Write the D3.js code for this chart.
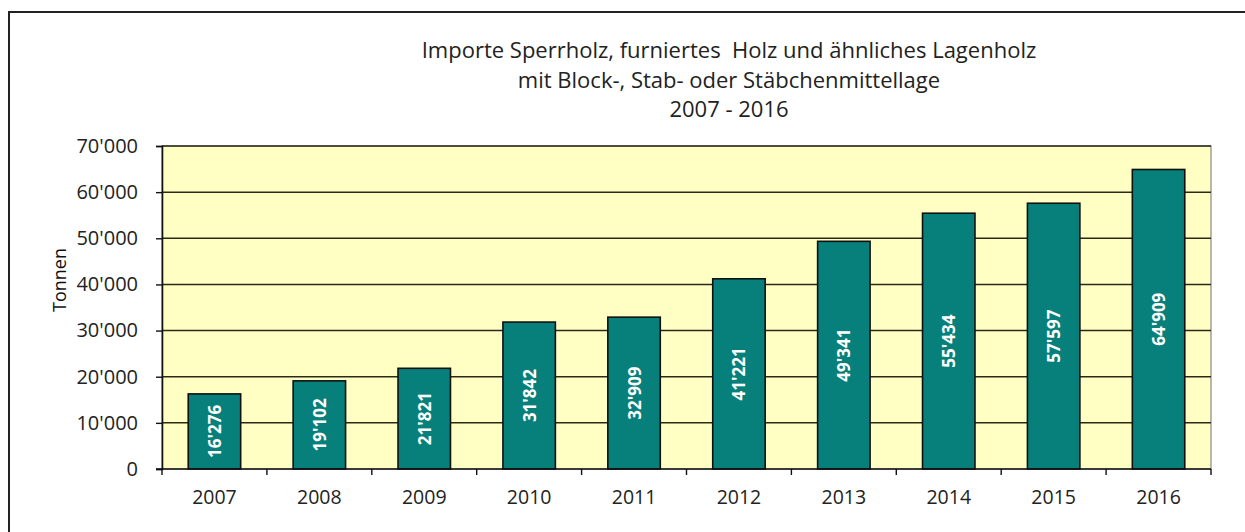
<!DOCTYPE html>
<html><head><meta charset="utf-8">
<script src="https://cdn.jsdelivr.net/npm/d3@7"></script>
<style>
body{margin:0;background:#fff;}
svg{display:block;font-family:"Open Sans",sans-serif;}
</style></head>
<body><svg id="c" width="1245" height="532"></svg>
<script>
const years = ["2007","2008","2009","2010","2011","2012","2013","2014","2015","2016"];
const values = [16276,19102,21821,31842,32909,41221,49341,55434,57597,64909];
const yTicks = [0,10000,20000,30000,40000,50000,60000,70000];
const titleLines = ["Importe Sperrholz, furniertes  Holz und ähnliches Lagenholz","mit Block-, Stab- oder Stäbchenmittellage","2007 - 2016"];
const yLabel = "Tonnen";

const svg = d3.select("#c");
const fmt = v => { const s = String(v); return s.length > 3 ? s.slice(0, s.length-3) + "'" + s.slice(-3) : s; };

// outer frame
svg.append("rect").attr("x",9).attr("y",12).attr("width",1260).attr("height",540)
  .attr("fill","#fff").attr("stroke","#222").attr("stroke-width",2);

const L=162, R=1211, T=146, B=469;
const x = d3.scaleBand().domain(years).range([L,R]).paddingInner(0.5).paddingOuter(0.25);
const y = d3.scaleLinear().domain([0,70000]).range([B,T]);

svg.append("rect").attr("x",L).attr("y",T).attr("width",R-L).attr("height",B-T)
  .attr("fill","#ffffc4").attr("stroke","#888").attr("stroke-width",1.2);

// gridlines
svg.append("g").selectAll("line").data(yTicks.filter(d=>d>0)).join("line")
  .attr("x1",L).attr("x2",R).attr("y1",d=>y(d)).attr("y2",d=>y(d))
  .attr("stroke","#2a2a1a").attr("stroke-width",1.5);

// bars
svg.append("g").selectAll("rect").data(values).join("rect")
  .attr("x",(d,i)=>x(years[i])).attr("width",x.bandwidth())
  .attr("y",d=>y(d)).attr("height",d=>B-y(d))
  .attr("fill","#077f7b").attr("stroke","#111").attr("stroke-width",1.6);

// value labels
svg.append("g").selectAll("text").data(values).join("text")
  .attr("transform",(d,i)=>`translate(${x(years[i])+x.bandwidth()/2},${(y(d)+B)/2}) rotate(-90)`)
  .attr("text-anchor","middle").attr("dominant-baseline","central")
  .attr("fill","#fff").attr("font-weight","bold").attr("font-size",17)
  .text(d=>fmt(d));

// y axis
const yAxis = d3.axisLeft(y).tickValues(yTicks).tickFormat(fmt).tickSize(6).tickPadding(18);
const gy = svg.append("g").attr("transform",`translate(${L},0)`).call(yAxis);
gy.select(".domain").attr("stroke","#111").attr("stroke-width",1.6);
gy.selectAll(".tick line").attr("stroke","#111").attr("stroke-width",1.4);
gy.selectAll("text").attr("font-size",20).attr("fill","#222").attr("font-family","Open Sans");

// x axis
const gx = svg.append("g").attr("transform",`translate(0,${B})`);
gx.append("line").attr("x1",L-6).attr("x2",R).attr("stroke","#111").attr("stroke-width",1.6);
const bounds = d3.range(years.length+1).map(i=>L+i*(R-L)/years.length);
gx.selectAll("line.t").data(bounds).join("line").attr("class","t")
  .attr("x1",d=>d).attr("x2",d=>d).attr("y1",0).attr("y2",6).attr("stroke","#111").attr("stroke-width",1.4);
gx.selectAll("text").data(years).join("text")
  .attr("x",d=>x(d)+x.bandwidth()/2).attr("y",35).attr("text-anchor","middle")
  .attr("font-size",19.5).attr("fill","#222").text(d=>d);

// y label
svg.append("text").attr("transform","translate(66,280) rotate(-90)")
  .attr("text-anchor","middle").attr("font-size",18).attr("fill","#111").text(yLabel);

// title
svg.append("g").selectAll("text").data(titleLines).join("text")
  .attr("x",729).attr("y",(d,i)=>58+i*29.5).attr("text-anchor","middle")
  .attr("font-size",22).attr("fill","#222").style("white-space","pre").text(d=>d);
</script></body></html>
